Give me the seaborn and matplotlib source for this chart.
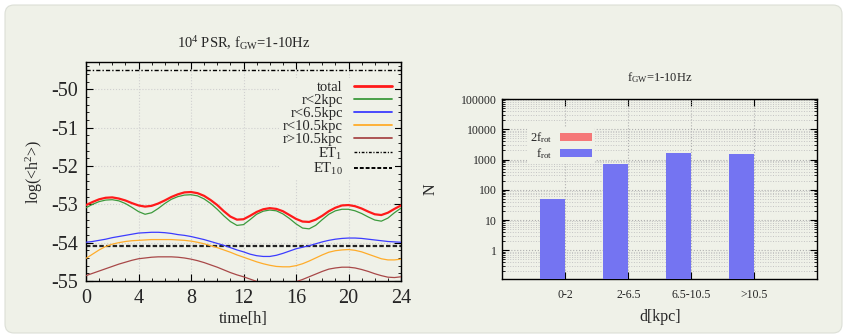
import numpy as np
import pandas as pd
import matplotlib
matplotlib.use("Agg")
import matplotlib.pyplot as plt
import seaborn as sns
from matplotlib.lines import Line2D
from matplotlib.patches import Patch, FancyBboxPatch
from matplotlib.transforms import IdentityTransform
from matplotlib.ticker import MultipleLocator, FixedLocator, FixedFormatter, LogLocator, NullFormatter

# --- data: left panel, log(<h^2>) vs sidereal time (every 0.5 h) ---
hours = [i * 0.5 for i in range(49)]

total = [-53.02, -52.94, -52.87, -52.83, -52.82, -52.85, -52.90, -52.97, -53.03, -53.06,
         -53.04, -52.98, -52.90, -52.81, -52.74, -52.69, -52.68, -52.71, -52.78, -52.89,
         -53.02, -53.18, -53.32, -53.40, -53.39, -53.30, -53.20, -53.13, -53.10, -53.12,
         -53.18, -53.28, -53.38, -53.45, -53.46, -53.40, -53.30, -53.18, -53.09, -53.03,
         -53.02, -53.05, -53.11, -53.19, -53.26, -53.28, -53.22, -53.12, -53.03]

r_lt2 = [-53.09, -53.00, -52.93, -52.89, -52.88, -52.91, -52.98, -53.08, -53.19, -53.26,
         -53.22, -53.11, -52.98, -52.87, -52.80, -52.76, -52.75, -52.78, -52.86, -52.98,
         -53.13, -53.30, -53.45, -53.55, -53.53, -53.40, -53.26, -53.18, -53.15, -53.17,
         -53.25, -53.37, -53.51, -53.62, -53.64, -53.55, -53.40, -53.26, -53.17, -53.13,
         -53.13, -53.17, -53.24, -53.33, -53.41, -53.44, -53.36, -53.22, -53.10]

r_lt65 = [-53.99, -53.97, -53.94, -53.91, -53.87, -53.84, -53.81, -53.78, -53.75, -53.74,
          -53.73, -53.73, -53.74, -53.76, -53.79, -53.81, -53.84, -53.88, -53.92, -53.97,
          -54.02, -54.07, -54.13, -54.19, -54.24, -54.30, -54.34, -54.36, -54.36, -54.33,
          -54.28, -54.22, -54.16, -54.12, -54.08, -54.03, -53.98, -53.94, -53.91, -53.89,
          -53.88, -53.88, -53.89, -53.91, -53.93, -53.95, -53.97, -53.98, -53.99]

r_lt105 = [-54.41, -54.30, -54.19, -54.10, -54.04, -54.00, -53.97, -53.95, -53.94, -53.93,
           -53.92, -53.92, -53.92, -53.92, -53.93, -53.94, -53.96, -53.99, -54.03, -54.08,
           -54.13, -54.19, -54.25, -54.32, -54.38, -54.44, -54.50, -54.55, -54.59, -54.62,
           -54.63, -54.63, -54.60, -54.55, -54.48, -54.40, -54.32, -54.25, -54.21, -54.19,
           -54.18, -54.20, -54.24, -54.30, -54.36, -54.42, -54.45, -54.45, -54.43]

r_gt105 = [-54.86, -54.80, -54.74, -54.68, -54.62, -54.56, -54.51, -54.46, -54.42, -54.40,
           -54.38, -54.37, -54.37, -54.37, -54.38, -54.40, -54.43, -54.47, -54.52, -54.58,
           -54.64, -54.71, -54.78, -54.84, -54.89, -54.95, -55.01, -55.07, -55.11, -55.12,
           -55.11, -55.07, -55.02, -54.96, -54.89, -54.82, -54.75, -54.69, -54.66, -54.64,
           -54.64, -54.66, -54.70, -54.75, -54.81, -54.86, -54.90, -54.91, -54.89]

et1 = -49.5
et10 = -54.1

# --- data: right panel, number of pulsars per distance bin ---
d_bins = ["0-2", "2-6.5", "6.5-10.5", ">10.5"]
n_frot = [50, 700, 1620, 1540]
n_2frot = [np.nan, np.nan, np.nan, np.nan]

bg = "#eff1e8"
c_total, c_2, c_65, c_105, c_gt = "#ff1a1a", "#3c9a3c", "#3c3cff", "#ffac2a", "#a84848"

sns.set_theme(style="ticks")
plt.rcParams["font.family"] = ["Liberation Serif", "DejaVu Serif"]
plt.rcParams["mathtext.fontset"] = "custom"
plt.rcParams["mathtext.rm"] = "Liberation Serif"
plt.rcParams["mathtext.it"] = "Liberation Serif:italic"
plt.rcParams["axes.unicode_minus"] = False
plt.rcParams["axes.edgecolor"] = "black"
plt.rcParams["xtick.direction"] = "in"
plt.rcParams["ytick.direction"] = "in"

fig = plt.figure(figsize=(8.44, 3.36), dpi=100)
fig.patch.set_facecolor("white")
fig.patches.append(FancyBboxPatch((5, 3), 837, 328, boxstyle="round,pad=0,rounding_size=9",
                                  transform=IdentityTransform(), facecolor=bg,
                                  edgecolor="#dcdfd6", linewidth=0.8, zorder=-10))

# ---------------- left panel ----------------
ax1 = fig.add_axes([86 / 844, 55 / 336, 315 / 844, 219 / 336])
ax1.set_facecolor(bg)
series = [(total, c_total, 1.6, "total"), (r_lt2, c_2, 0.9, "r<2kpc"),
          (r_lt65, c_65, 0.9, "r<6.5kpc"), (r_lt105, c_105, 0.9, "r<10.5kpc"),
          (r_gt105, c_gt, 0.9, "r>10.5kpc")]
handles = []
for vals, col, lw, lab in series[::-1]:
    sns.lineplot(x=hours, y=vals, ax=ax1, color=col, lw=lw, zorder=3)
for vals, col, lw, lab in series:
    handles.append(Line2D([], [], color=col, lw=lw + 0.4, label=lab))
ax1.axhline(et1, color="black", lw=1.0, dashes=(3, 1.5, 1, 1.5), zorder=2)
ax1.axhline(et10, color="#222222", lw=1.6, dashes=(2, 1), zorder=2)
handles.append(Line2D([], [], color="black", lw=1.0, dashes=(2, 1.2, 0.8, 1.2), label="ET$_1$"))
handles.append(Line2D([], [], color="black", lw=1.4, dashes=(2, 1), label="ET$_{10}$"))

ax1.set_xlim(0, 24)
ax1.set_ylim(-55, -49.29)
ax1.xaxis.set_major_locator(MultipleLocator(4))
ax1.xaxis.set_minor_locator(MultipleLocator(1))
ax1.yaxis.set_major_locator(MultipleLocator(1))
ax1.yaxis.set_minor_locator(MultipleLocator(0.2))
ax1.tick_params(which="both", top=True, right=True, direction="in", color="black")
ax1.tick_params(which="major", length=5, width=0.8, labelsize=14.5, pad=6)
ax1.tick_params(which="minor", length=2.5, width=0.6)
ax1.grid(True, which="major", color="#d0d0d0", ls=":", lw=0.8)
for s in ax1.spines.values():
    s.set_linewidth(1.0)
ax1.set_xlabel("time[h]", fontsize=12, labelpad=2)
ax1.set_ylabel("log(<h$^2$>)", fontsize=11.5, labelpad=4)
ax1.set_title("10$^4$ PSR, f$_{\\rm GW}$=1-10Hz", fontsize=10.5, pad=10)
leg1 = ax1.legend(handles=handles, loc="upper right", bbox_to_anchor=(1.005, 0.96),
                  markerfirst=False, fontsize=10.5, frameon=True, facecolor=bg,
                  edgecolor="none", framealpha=1, handlelength=2.6, handletextpad=0.8,
                  labelspacing=-0.02, borderpad=0.2)

# ---------------- right panel ----------------
ax2 = fig.add_axes([502.3 / 844, 56.7 / 336, 315 / 844, 180.3 / 336])
ax2.set_facecolor(bg)
df = pd.DataFrame({"d": d_bins * 2, "N": n_frot + n_2frot,
                   "f": ["frot"] * 4 + ["2frot"] * 4})
sns.barplot(data=df, x="d", y="N", hue="f", hue_order=["frot", "2frot"],
            palette={"frot": "#7474f2", "2frot": "#f57878"}, width=0.8, saturation=1,
            errorbar=None, ax=ax2, linewidth=0, zorder=3, legend=False)
ax2.set_yscale("log")
ax2.set_ylim(0.11, 100000)
ax2.set_xlim(-1, 4)
ax2.yaxis.set_major_locator(FixedLocator([1, 10, 100, 1000, 10000, 100000]))
ax2.yaxis.set_major_formatter(FixedFormatter(["1", "10", "100", "1000", "10000", "100000"]))
ax2.yaxis.set_minor_locator(LogLocator(base=10, subs=np.arange(2, 10), numticks=20))
ax2.yaxis.set_minor_formatter(NullFormatter())
ax2.tick_params(which="both", top=True, right=True, direction="in", color="black")
ax2.tick_params(which="major", length=5, width=0.8, labelsize=8.5, pad=4)
ax2.tick_params(axis="x", which="major", pad=7)
ax2.tick_params(which="minor", length=2.5, width=0.6)
ax2.grid(True, which="major", color="#b0b0b0", ls=":", lw=0.8)
ax2.grid(True, which="minor", axis="y", color="#c4c4c4", ls=":", lw=0.7)
for s in ax2.spines.values():
    s.set_linewidth(1.0)
ax2.set_xlabel("d[kpc]", fontsize=11.5, labelpad=6)
ax2.set_ylabel("N", fontsize=11.5, labelpad=16)
ax2.set_title("f$_{\\rm GW}$=1-10Hz", fontsize=9, pad=13)
h2 = [Patch(facecolor="#f57878", edgecolor="none", label="2f$_{\\rm rot}$"),
      Patch(facecolor="#7474f2", edgecolor="none", label="f$_{\\rm rot}$")]
ax2.legend(handles=h2, loc="upper left", bbox_to_anchor=(0.06, 0.875), markerfirst=False,
           fontsize=9, frameon=True, facecolor=bg, edgecolor="none", framealpha=1,
           handlelength=2.6, handleheight=0.65, handletextpad=0.6, labelspacing=0.1,
           borderpad=0.2)

fig.savefig("out.png", dpi=100, facecolor=fig.get_facecolor())
